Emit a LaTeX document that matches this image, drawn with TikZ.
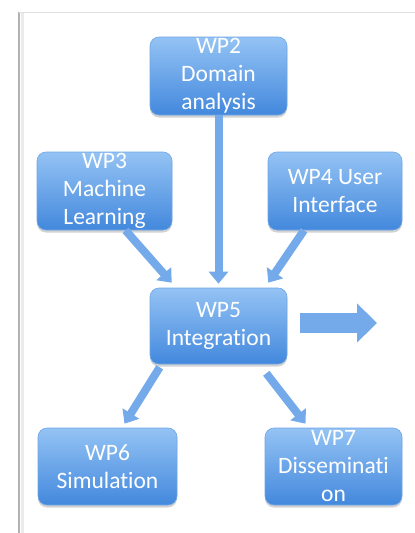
\documentclass[tikz,border=0pt]{standalone}
\usepackage{fontspec}
\setmainfont[RawFeature={-liga;-clig;-calt;-dlig;-rlig}]{Carlito}
\usetikzlibrary{arrows.meta,shadows,calc}
\definecolor{boxtop}{HTML}{94C3F4}
\definecolor{boxbot}{HTML}{4388DD}
\definecolor{boxline}{HTML}{6FA6E6}
\definecolor{arrowfill}{HTML}{74AAEA}
\tikzset{
  wpbox/.style={rounded corners=9pt, top color=boxtop, bottom color=boxbot,
    draw=boxline, line width=0.6pt, minimum width=137pt, minimum height=78pt,
    inner sep=0pt, align=center, text=white,
    font=\fontsize{23.5}{28}\selectfont,
    drop shadow={opacity=0.35, shadow xshift=0pt, shadow yshift=-2.5pt}},
  blk/.style={draw=arrowfill, line width=8pt,
    -{Triangle[width=19pt,length=12pt]}, arrowfill},
  bigblk/.style={draw=arrowfill, line width=20pt,
    -{Triangle[width=38pt,length=20pt]}, arrowfill},
}
\begin{document}
\begin{tikzpicture}[x=1pt,y=-1pt]
\useasboundingbox (0,0) rectangle (415,533);
\fill[white] (0,0) rectangle (415,533);
% page frame
\draw[black!8, line width=3pt] (22,13) -- (22,533);
\draw[black!30, line width=1.5pt] (19,12) -- (19,533);
\draw[black!12, line width=1pt] (19,12) -- (415,12);

\node[wpbox] (wp2) at (218.5,76) {WP2\\Domain\\analysis};
\node[wpbox, minimum width=135pt] (wp3) at (104.5,191) {WP3\\Machine\\Learning};
\node[wpbox, minimum width=134pt] (wp4) at (335,191) {WP4 User\\Interface};
\node[wpbox, minimum height=76pt] (wp5) at (218.5,326) {WP5\\Integration};
\node[wpbox, minimum width=139pt, minimum height=77pt] (wp6) at (107.5,466.5) {WP6\\Simulation};
\node[wpbox, minimum width=137pt, minimum height=77pt] (wp7) at (333.5,466.5) {WP7\\Disseminati\\on};

\coordinate (out) at (377,323);

\draw[blk] (wp2.south) -- ([yshift=4pt]wp5.north);
\draw[blk] ([xshift=21pt]wp3.south) -- ([xshift=22pt,yshift=5pt]wp5.north west);
\draw[blk] ([xshift=-31pt]wp4.south) -- ([xshift=-19pt,yshift=5pt]wp5.north east);
\draw[blk] ([xshift=10pt,yshift=-3pt]wp5.south west) -- ([xshift=17pt,yshift=4pt]wp6.north);
\draw[blk] ([xshift=-21pt,yshift=-9pt]wp5.south east) -- ([xshift=-28pt,yshift=4pt]wp7.north);
\draw[bigblk] ([xshift=13pt,yshift=3pt]wp5.east) -- (out);
\end{tikzpicture}
\end{document}
